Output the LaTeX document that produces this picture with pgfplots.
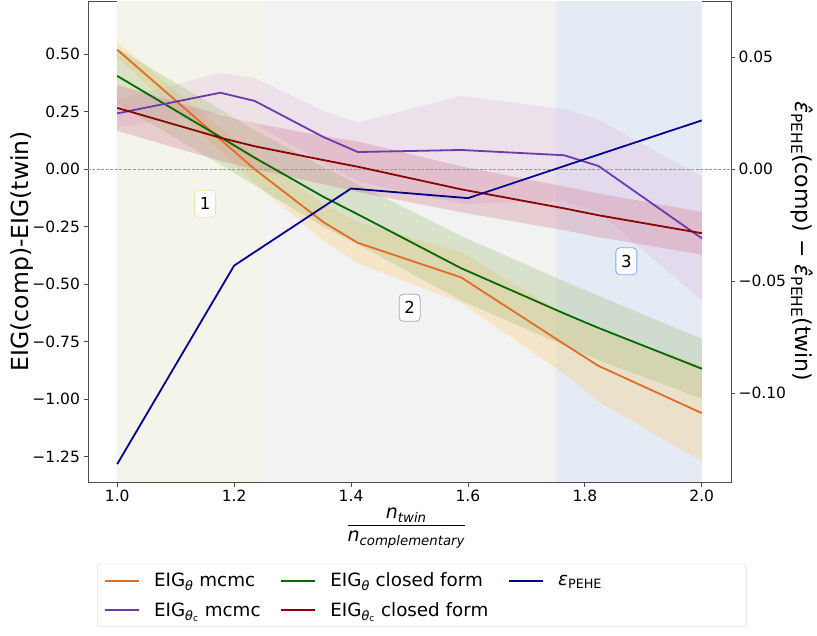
\documentclass[border=0pt]{standalone}
\usepackage{pgfplots}
\pgfplotsset{compat=1.18}
\usepackage{fontspec}
\setmainfont{DejaVu Sans}
\definecolor{cOr}{RGB}{224,108,38}
\definecolor{cPu}{RGB}{108,58,170}
\definecolor{cGr}{RGB}{0,105,0}
\definecolor{cRd}{RGB}{139,0,0}
\definecolor{cBl}{RGB}{0,0,139}
\definecolor{bOr}{RGB}{252,202,109}
\definecolor{bGr}{RGB}{159,188,115}
\definecolor{bRd}{RGB}{208,118,139}
\definecolor{bPu}{RGB}{225,185,222}
\definecolor{sYe}{RGB}{244,244,235}
\definecolor{sGy}{RGB}{242,242,242}
\definecolor{sBl}{RGB}{228,235,244}
\definecolor{kB1}{RGB}{238,228,160}
\definecolor{kB2}{RGB}{170,170,170}
\definecolor{kB3}{RGB}{127,168,240}
\begin{document}
\begin{tikzpicture}[x=1pt,y=1pt]
\useasboundingbox (-88,-153) rectangle (729,482);
\begin{axis}[
  at={(0,0)}, anchor=south west, scale only axis,
  width=643pt, height=481pt,
  xmin=0.95, xmax=2.05, ymin=-1.3596, ymax=0.7317,
  axis line style={black!70, line width=0.8pt},
  xtick={1.0,1.2,1.4,1.6,1.8,2.0},
  xticklabels={1.0,1.2,1.4,1.6,1.8,2.0},
  ytick={-1.25,-1,-0.75,-0.5,-0.25,0,0.25,0.5},
  yticklabels={−1.25,−1.00,−0.75,−0.50,−0.25,0.00,0.25,0.50},
  tick align=outside, xtick pos=lower, ytick pos=left,
  major tick length=4.5pt, tick style={black!70, line width=0.8pt},
  ticklabel style={font=\fontsize{15.5}{18}\selectfont},
  ylabel={EIG(comp)-EIG(twin)},
  ylabel style={at={(axis description cs:-0.102,0.48)}, anchor=center, font=\fontsize{23.5}{26}\selectfont},
  xlabel={$\displaystyle\frac{\mbox{\itshape n\textsubscript{twin}}}{\mbox{\itshape n\textsubscript{complementary}}}$},
  xlabel style={at={(axis description cs:0.495,-0.0956)}, anchor=center, font=\fontsize{19}{22}\selectfont},
  legend columns=3, legend cell align=left,
  legend style={at={(0.519,-0.170)}, anchor=north, draw=black!18, rounded corners=3pt, fill=white,
    font=\fontsize{18.3}{21}\selectfont, inner xsep=7pt, inner ysep=7pt, row sep=10pt,
    /tikz/every even column/.append style={column sep=18pt},
    /tikz/every odd column/.append style={column sep=12pt}},
  legend image code/.code={\draw[#1] (0pt,0pt) -- (34pt,0pt);},
]
% background spans
\addplot[draw=none, fill=sYe, forget plot] coordinates {(1.0,-1.3596) (1.0,0.7317) (1.25,0.7317) (1.25,-1.3596)} -- cycle;
\addplot[draw=none, fill=sGy, forget plot] coordinates {(1.25,-1.3596) (1.25,0.7317) (1.75,0.7317) (1.75,-1.3596)} -- cycle;
\addplot[draw=none, fill=sBl, forget plot] coordinates {(1.75,-1.3596) (1.75,0.7317) (2.0,0.7317) (2.0,-1.3596)} -- cycle;
% bands
\addplot[draw=none, fill=bOr, fill opacity=0.3, forget plot] coordinates {(1.0,0.555) (1.1765,0.18) (1.2353,0.06) (1.3529,-0.15) (1.4118,-0.23) (1.5882,-0.36) (1.7647,-0.63) (1.8235,-0.70) (2.0,-0.85) (2.0,-1.27) (1.8235,-1.01) (1.7647,-0.89) (1.5882,-0.58) (1.4118,-0.41) (1.3529,-0.31) (1.2353,-0.06) (1.1765,0.08) (1.0,0.485)} -- cycle;
\addplot[draw=none, fill=bPu, fill opacity=0.3, forget plot] coordinates {(1.0,0.303) (1.1765,0.42) (1.2353,0.397) (1.3529,0.253) (1.4118,0.203) (1.5882,0.319) (1.7647,0.261) (1.8235,0.214) (2.0,-0.03) (2.0,-0.57) (1.8235,-0.186) (1.7647,-0.139) (1.5882,-0.151) (1.4118,-0.053) (1.3529,0.027) (1.2353,0.197) (1.1765,0.246) (1.0,0.183)} -- cycle;
\addplot[draw=none, fill=bGr, fill opacity=0.3, forget plot] coordinates {(1.0,0.526) (1.1765,0.26) (1.2353,0.17) (1.3529,0.01) (1.4118,-0.066) (1.5882,-0.29) (1.7647,-0.487) (1.8235,-0.55) (2.0,-0.737) (2.0,-0.997) (1.8235,-0.83) (1.7647,-0.767) (1.5882,-0.57) (1.4118,-0.326) (1.3529,-0.25) (1.2353,-0.07) (1.1765,0.02) (1.0,0.286)} -- cycle;
\addplot[draw=none, fill=bRd, fill opacity=0.3, forget plot] coordinates {(1.0,0.367) (1.1765,0.237) (1.2353,0.20) (1.3529,0.145) (1.4118,0.121) (1.5882,0.013) (1.7647,-0.075) (1.8235,-0.105) (2.0,-0.185) (2.0,-0.371) (1.8235,-0.295) (1.7647,-0.265) (1.5882,-0.187) (1.4118,-0.099) (1.3529,-0.065) (1.2353,0.0) (1.1765,0.037) (1.0,0.167)} -- cycle;
% zero line
\addplot[black!40, line width=0.8pt, dash pattern=on 3pt off 1.5pt, forget plot] coordinates {(0.95,0) (2.05,0)};
% lines (legend order row-wise: orange, green, blue, purple, red)
\addplot[cOr, line width=1.8pt] coordinates {(1.0,0.52) (1.1765,0.13) (1.2353,0.0) (1.3529,-0.23) (1.4118,-0.32) (1.5882,-0.47) (1.7647,-0.76) (1.8235,-0.855) (2.0,-1.06)};
\addlegendentry{EIG\textsubscript{\itshape θ} mcmc}
\addplot[cGr, line width=1.8pt] coordinates {(1.0,0.406) (1.1765,0.14) (1.2353,0.05) (1.3529,-0.12) (1.4118,-0.196) (1.5882,-0.43) (1.7647,-0.627) (1.8235,-0.69) (2.0,-0.867)};
\addlegendentry{EIG\textsubscript{\itshape θ} closed form}
\addlegendimage{cBl, line width=1.8pt}
\addlegendentry{\makebox[179pt][l]{{\itshape ε}\textsubscript{PEHE}}}
\addplot[cPu, line width=1.8pt] coordinates {(1.0,0.243) (1.1765,0.333) (1.2353,0.297) (1.3529,0.14) (1.4118,0.075) (1.5882,0.084) (1.7647,0.061) (1.8235,0.014) (2.0,-0.30)};
\addlegendentry{EIG\textsubscript{{\itshape θ}\textsubscript{c}} mcmc}
\addplot[cRd, line width=1.8pt] coordinates {(1.0,0.267) (1.1765,0.137) (1.2353,0.10) (1.3529,0.04) (1.4118,0.011) (1.5882,-0.087) (1.7647,-0.17) (1.8235,-0.20) (2.0,-0.278)};
\addlegendentry{EIG\textsubscript{{\itshape θ}\textsubscript{c}} closed form}
% annotation boxes
\node[draw=kB1, fill=white, rounded corners=4pt, line width=0.8pt, minimum width=21pt, minimum height=27pt, inner sep=0pt, font=\fontsize{16.5}{18}\selectfont] at (axis cs:1.1504,-0.150) {1};
\node[draw=kB2, fill=white, rounded corners=4pt, line width=0.8pt, minimum width=21pt, minimum height=27pt, inner sep=0pt, font=\fontsize{16.5}{18}\selectfont] at (axis cs:1.5003,-0.602) {2};
\node[draw=kB3, fill=white, rounded corners=4pt, line width=0.8pt, minimum width=21pt, minimum height=27pt, inner sep=0pt, font=\fontsize{16.5}{18}\selectfont] at (axis cs:1.871,-0.40) {3};
\end{axis}
\begin{axis}[
  at={(0,0)}, anchor=south west, scale only axis,
  width=643pt, height=481pt,
  xmin=0.95, xmax=2.05, ymin=-0.1396, ymax=0.0751,
  axis x line=none, axis y line*=right,
  axis line style={black!70, line width=0.8pt},
  ytick={-0.10,-0.05,0,0.05},
  yticklabels={−0.10,−0.05,0.00,0.05},
  tick align=outside,
  major tick length=4pt, tick style={black!70, line width=0.8pt},
  ticklabel style={font=\fontsize{15.5}{18}\selectfont},
  ylabel={{\itshape\^{ε}}\textsubscript{PEHE}(comp) − {\itshape\^{ε}}\textsubscript{PEHE}(twin)},
  ylabel style={at={(axis description cs:1.11,0.5)}, anchor=center, rotate=180, font=\fontsize{22}{25}\selectfont},
]
\addplot[cBl, line width=1.8pt] coordinates {(1.0,-0.1316) (1.2,-0.043) (1.4,-0.0086) (1.6,-0.0129) (1.8,0.0045) (2.0,0.0218)};
\end{axis}
\end{tikzpicture}
\end{document}
